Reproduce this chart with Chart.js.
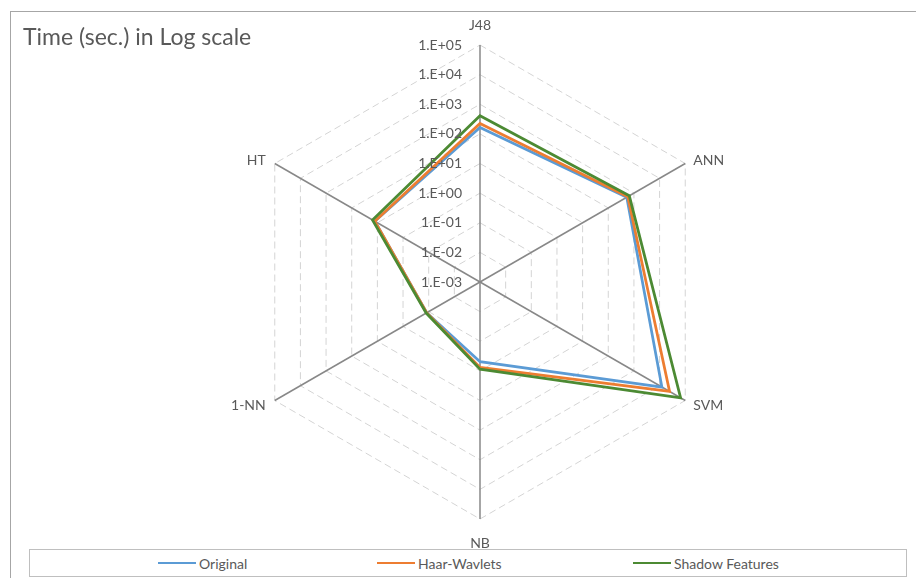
<!DOCTYPE html>
<html>
<head>
<meta charset="utf-8">
<script src="https://cdn.jsdelivr.net/npm/chart.js@4/dist/chart.umd.min.js"></script>
<style>
  html, body { margin: 0; padding: 0; background: #fff; }
  #wrap { position: relative; width: 916px; height: 578px; overflow: hidden; font-family: Lato, "Open Sans", sans-serif; }
  #frame { position: absolute; left: 10px; top: 11px; right: -4px; bottom: -4px; border-left: 1.5px solid #a6a6a6; border-top: 1.5px solid #a6a6a6; }
  #legend { position: absolute; left: 29px; top: 549px; width: 876px; height: 26px; border: 1px solid #bfbfbf; background: #fff; }
  .item { position: absolute; top: 0; height: 26px; display: flex; align-items: center; font-size: 14px; color: #595959; white-space: nowrap; }
  .swatch { display: inline-block; width: 38px; height: 0; border-top: 2.5px solid; margin-right: 3px; }
</style>
</head>
<body>
<div id="wrap">
  <canvas id="c" width="916" height="578"></canvas>
  <div id="frame"></div>
  <div id="legend"></div>
</div>
<script>
// Classifiers around the radar
const categories = ['J48', 'ANN', 'SVM', 'NB', '1-NN', 'HT'];

// Run time in seconds per classifier, one array per feature set
const originalTimes = [165, 525, 12300, 0.49, 0.12, 12.6];
const haarTimes     = [225, 575, 24500, 0.76, 0.12, 12.6];
const shadowTimes   = [410, 660, 66000, 0.87, 0.125, 15.5];

const seriesNames  = ['Original', 'Haar-Wavlets', 'Shadow Features'];
const seriesColors = ['#5B9BD5', '#ED7D31', '#4C8A33'];

// Decade labels of the radial axis, from 1e-3 up to 1e5
const tickLabels = ['1.E-03', '1.E-02', '1.E-01', '1.E+00', '1.E+01', '1.E+02', '1.E+03', '1.E+04', '1.E+05'];
const minExp = -3, maxExp = 5;

const chartTitle = 'Time (sec.) in Log scale';
const textColor = '#595959';
const fontFamily = 'Lato, "Open Sans", sans-serif';

const allSeries = [originalTimes, haarTimes, shadowTimes];

// Labels, tick text and title drawn around the radial scale
const decorations = {
  id: 'decorations',
  afterDatasetsDraw(chart) {
    const scale = chart.scales.r;
    const ctx = chart.ctx;
    ctx.save();
    ctx.fillStyle = textColor;

    // decade labels to the left of the first spoke
    ctx.font = '14px ' + fontFamily;
    ctx.textAlign = 'right';
    ctx.textBaseline = 'middle';
    tickLabels.forEach((t, i) => {
      const d = scale.getDistanceFromCenterForValue(minExp + i);
      ctx.fillText(t, scale.xCenter - 18, scale.yCenter - d);
    });

    // category names at the tip of each spoke
    categories.forEach((name, i) => {
      const p = scale.getPointPosition(i, scale.drawingArea);
      const dx = p.x - scale.xCenter;
      const dy = p.y - scale.yCenter;
      let x = p.x, y = p.y;
      if (Math.abs(dx) < 1) {
        ctx.textAlign = 'center';
        y += dy < 0 ? -20 : 24;
      } else {
        ctx.textAlign = dx > 0 ? 'left' : 'right';
        x += dx > 0 ? 8 : -9;
        y += dy < 0 ? -3 : 5;
      }
      ctx.fillText(name, x, y);
    });

    // chart title, top left
    ctx.font = '23px ' + fontFamily;
    ctx.textAlign = 'left';
    ctx.textBaseline = 'alphabetic';
    ctx.fillText(chartTitle, 23, 45);
    ctx.restore();
  }
};

new Chart(document.getElementById('c'), {
  type: 'radar',
  data: {
    labels: categories,
    datasets: allSeries.map((vals, i) => ({
      label: seriesNames[i],
      data: vals.map(v => Math.log10(v)),
      borderColor: seriesColors[i],
      backgroundColor: seriesColors[i],
      borderWidth: 2.75,
      pointRadius: 0,
      fill: false,
      tension: 0,
      order: allSeries.length - i
    }))
  },
  options: {
    responsive: false,
    animation: false,
    layout: { padding: { left: 44, right: 0, top: 45, bottom: 59 } },
    plugins: { legend: { display: false }, tooltip: { enabled: false } },
    scales: {
      r: {
        min: minExp,
        max: maxExp,
        beginAtZero: false,
        ticks: { display: false, stepSize: 1 },
        pointLabels: { display: false },
        grid: { color: '#d4d4d4', lineWidth: 1 },
        border: { dash: [7, 4] },
        angleLines: { color: '#888888', lineWidth: 1.5 }
      }
    }
  },
  plugins: [decorations]
});

// Legend boxes laid out along the bottom strip
const legendSlots = [158, 377, 633];
const legendEl = document.getElementById('legend');
seriesNames.forEach((name, i) => {
  const item = document.createElement('div');
  item.className = 'item';
  item.style.left = (legendSlots[i] - 30) + 'px';
  const sw = document.createElement('span');
  sw.className = 'swatch';
  sw.style.borderTopColor = seriesColors[i];
  item.appendChild(sw);
  item.appendChild(document.createTextNode(name));
  legendEl.appendChild(item);
});
</script>
</body>
</html>
